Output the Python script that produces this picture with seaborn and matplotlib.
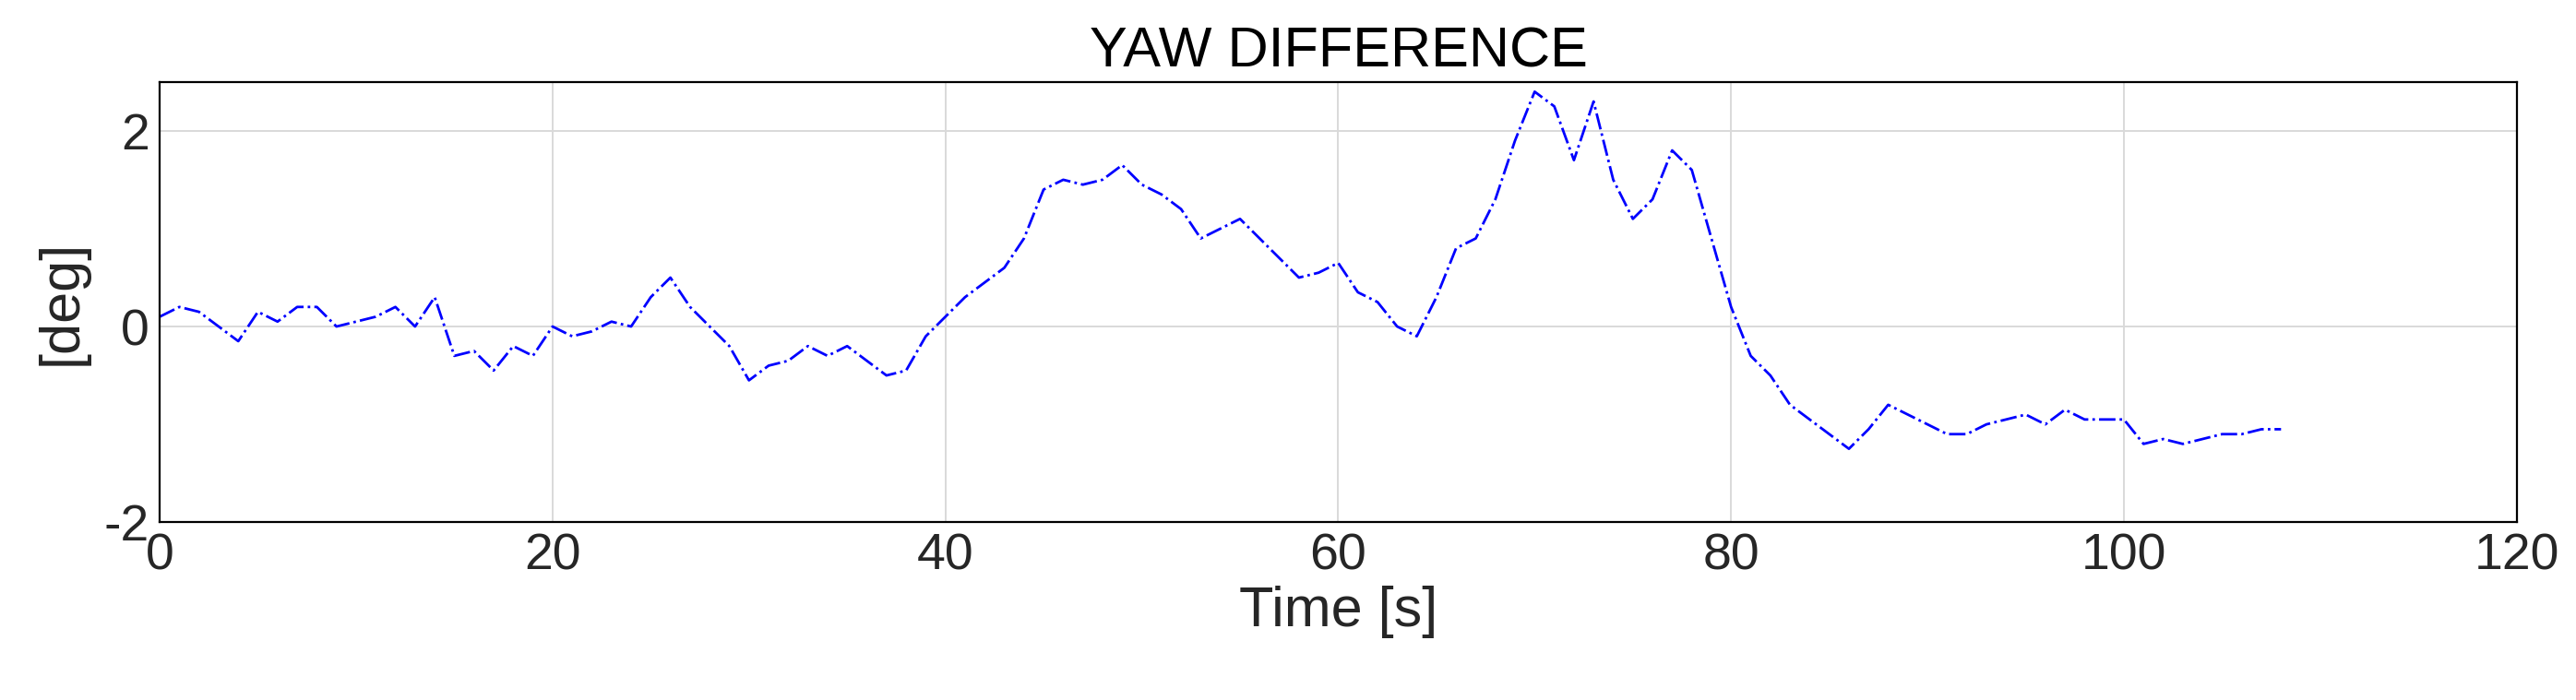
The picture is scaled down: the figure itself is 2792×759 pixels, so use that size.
import numpy as np
import matplotlib
matplotlib.use("Agg")
import matplotlib.pyplot as plt
import seaborn as sns

time_s = list(range(0, 109))
yaw_diff = [0.1,0.2,0.15,0.0,-0.15,0.15,0.05,0.2,0.2,0.0,0.05,0.1,0.2,0.0,0.3,-0.3,-0.25,-0.45,-0.2,-0.3,
            0.0,-0.1,-0.05,0.05,0.0,0.3,0.5,0.2,0.0,-0.2,-0.55,-0.4,-0.35,-0.2,-0.3,-0.2,-0.35,-0.5,-0.45,-0.1,
            0.1,0.3,0.45,0.6,0.9,1.4,1.5,1.45,1.5,1.65,1.45,1.35,1.2,0.9,1.0,1.1,0.9,0.7,0.5,0.55,
            0.65,0.35,0.25,0.0,-0.1,0.3,0.8,0.9,1.3,1.9,2.4,2.25,1.7,2.3,1.5,1.1,1.3,1.8,1.6,0.9,
            0.2,-0.3,-0.5,-0.8,-0.95,-1.1,-1.25,-1.05,-0.8,-0.9,-1.0,-1.1,-1.1,-1.0,-0.95,-0.9,-1.0,-0.85,-0.95,-0.95,
            -0.95,-1.2,-1.15,-1.2,-1.15,-1.1,-1.1,-1.05,-1.05]

sns.set_style("white")
plt.rcParams['font.family'] = ['Liberation Sans', 'DejaVu Sans']
plt.rcParams['axes.unicode_minus'] = False
fig = plt.figure(figsize=(13.96, 3.795), dpi=200)
ax = fig.add_axes([0.062, 0.254, 0.915, 0.629])
sns.lineplot(x=time_s, y=yaw_diff, ax=ax, color='blue', linestyle='-.', linewidth=1.0)
ax.set_xlim(0, 120)
ax.set_ylim(-2, 2.5)
ax.set_xticks([0, 20, 40, 60, 80, 100, 120])
ax.set_yticks([-2, 0, 2])
ax.grid(True, color='#d9d9d9', linewidth=0.7)
for s in ax.spines.values():
    s.set_color('black'); s.set_linewidth(0.8)
ax.tick_params(labelsize=20, labelcolor='#262626', direction='in', length=4, pad=4)
ax.set_xlabel('Time [s]', fontsize=22, color='#262626', labelpad=2)
ax.set_ylabel('[deg]', fontsize=22, color='#262626', labelpad=6)
ax.set_title('YAW DIFFERENCE', fontsize=22, color='black', pad=6)
fig.savefig('out.png', dpi=200)
